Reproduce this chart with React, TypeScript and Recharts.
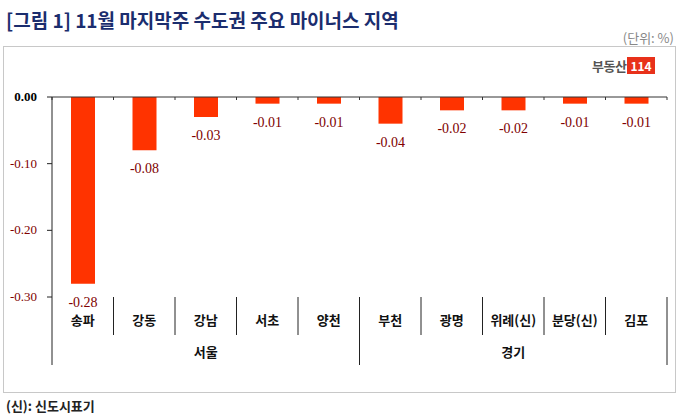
import { BarChart, Bar, XAxis, YAxis, LabelList } from "recharts"

// 11월 마지막주 수도권 주요 마이너스 지역 (단위: %)
const regions = ["송파", "강동", "강남", "서초", "양천", "부천", "광명", "위례(신)", "분당(신)", "김포"]
const changes = [-0.28, -0.08, -0.03, -0.01, -0.01, -0.04, -0.02, -0.02, -0.01, -0.01]
const groupNames = ["서울", "경기"]
const groupSizes = [5, 5]
const yTicks = [0, -0.1, -0.2, -0.3]

const data = regions.map((region, i) => ({ region, change: changes[i] }))

const W = 679
const H = 419
const margin = { top: 96, right: 12, bottom: 121, left: 0 }
const yAxisWidth = 52
const band = (W - margin.left - margin.right - yAxisWidth) / regions.length

const kr = "'Noto Sans CJK KR', 'Noto Sans', sans-serif"
const serif = "'Liberation Serif', 'DejaVu Serif', serif"

// group start indices, e.g. [0, 5]
const groupStarts = groupSizes.map((_, i) => groupSizes.slice(0, i).reduce((a, b) => a + b, 0))

const ValueTick = ({ x, y, payload }: any) => {
  const v = payload.value
  return (
    <text
      x={x}
      y={y}
      dy={4}
      textAnchor="end"
      fontFamily={serif}
      fontSize={13}
      fontWeight={v === 0 ? "bold" : "normal"}
      fill={v === 0 ? "#000" : "#800000"}
    >
      {v.toFixed(2)}
    </text>
  )
}

const TopTick = (props: any) => {
  const { x, index } = props
  const y = margin.top + 1
  const half = band / 2
  return (
    <g>
      <line x1={x - half} x2={x - half} y1={y} y2={y + 3} stroke="#333" />
      {index === regions.length - 1 && <line x1={x + half} x2={x + half} y1={y} y2={y + 3} stroke="#333" />}
    </g>
  )
}

const RegionTick = (props: any) => {
  const { x, payload, index } = props
  const y = H - margin.bottom - 1
  const half = band / 2
  const gi = groupStarts.indexOf(index)
  const isLast = index === regions.length - 1
  const labels = groupStarts.map((start, g) => ({ g, mid: start + (groupSizes[g] - 1) / 2 }))
  const myGroupLabel = labels.find((l) => Math.floor(l.mid) === index)
  return (
    <g>
      <line x1={x - half} x2={x - half} y1={y} y2={y + (gi >= 0 ? 68 : 38)} stroke="#222" />
      {isLast && <line x1={x + half} x2={x + half} y1={y} y2={y + 68} stroke="#222" />}
      <text x={x} y={y + 28} textAnchor="middle" fontFamily={kr} fontSize={13} fontWeight="bold" fill="#111">
        {payload.value}
      </text>
      {myGroupLabel && (
        <text
          x={x + (myGroupLabel.mid - index) * band}
          y={y + 60}
          textAnchor="middle"
          fontFamily={kr}
          fontSize={13}
          fontWeight="bold"
          fill="#111"
        >
          {groupNames[myGroupLabel.g]}
        </text>
      )}
    </g>
  )
}

const ValueLabel = ({ x, y, width, height, value }: any) => {
  const bottom = Math.max(y, y + height)
  return (
    <text
      x={x + width / 2}
      y={bottom + 19}
      dy={4}
      textAnchor="middle"
      fontFamily={serif}
      fontSize={14}
      fill="#800000"
    >
      {Number(value).toFixed(2)}
    </text>
  )
}

export default function App() {
  return (
    <div style={{ position: "absolute", left: 0, top: 0, width: W, height: H, background: "#fff" }}>
      <div
        style={{
          position: "absolute",
          left: 6,
          top: 6,
          fontFamily: kr,
          fontSize: 19,
          fontWeight: "bold",
          color: "#1b2d6e",
          whiteSpace: "nowrap",
        }}
      >
        [그림 1] 11월 마지막주 수도권 주요 마이너스 지역
      </div>
      <div
        style={{
          position: "absolute",
          right: 5,
          top: 28,
          fontFamily: kr,
          fontSize: 13,
          color: "#888",
          whiteSpace: "nowrap",
        }}
      >
        (단위: %)
      </div>
      <div
        style={{
          position: "absolute",
          left: 3,
          top: 46,
          width: 671,
          height: 345,
          border: "1px solid #c8c8c8",
        }}
      />
      <div
        style={{
          position: "absolute",
          left: 592,
          top: 56,
          display: "flex",
          alignItems: "center",
          fontFamily: kr,
          whiteSpace: "nowrap",
        }}
      >
        <span style={{ fontSize: 13, fontWeight: "bold", color: "#555", letterSpacing: -0.5 }}>부동산</span>
        <span
          style={{
            marginLeft: 1,
            background: "#e8311a",
            color: "#fff",
            fontSize: 12,
            fontWeight: "bold",
            padding: "0 3px",
            lineHeight: "17px",
          }}
        >
          114
        </span>
      </div>
      <div style={{ position: "absolute", left: 0, top: 0 }}>
        <BarChart width={W} height={H} data={data} margin={margin} barSize={24}>
          <XAxis
            xAxisId="top"
            orientation="top"
            dataKey="region"
            height={1}
            tickSize={0}
            tickMargin={0}
            tickLine={false}
            axisLine={{ stroke: "#333" }}
            tick={TopTick}
            interval={0}
          />
          <XAxis
            xAxisId="bottom"
            orientation="bottom"
            dataKey="region"
            height={1}
            tickSize={0}
            tickMargin={0}
            tickLine={false}
            axisLine={false}
            tick={RegionTick}
            interval={0}
          />
          <YAxis
            width={yAxisWidth}
            domain={[-0.3, 0]}
            ticks={yTicks}
            tickSize={5}
            tickMargin={10}
            tickLine={{ stroke: "#222" }}
            axisLine={{ stroke: "#222" }}
            tick={ValueTick}
            interval={0}
          />
          <Bar dataKey="change" xAxisId="bottom" fill="#ff3300" isAnimationActive={false}>
            <LabelList dataKey="change" content={ValueLabel} />
          </Bar>
        </BarChart>
      </div>
      <div
        style={{
          position: "absolute",
          left: 6,
          top: 396,
          fontFamily: kr,
          fontSize: 13,
          fontWeight: "bold",
          color: "#222",
          whiteSpace: "nowrap",
        }}
      >
        (신): 신도시표기
      </div>
    </div>
  )
}
